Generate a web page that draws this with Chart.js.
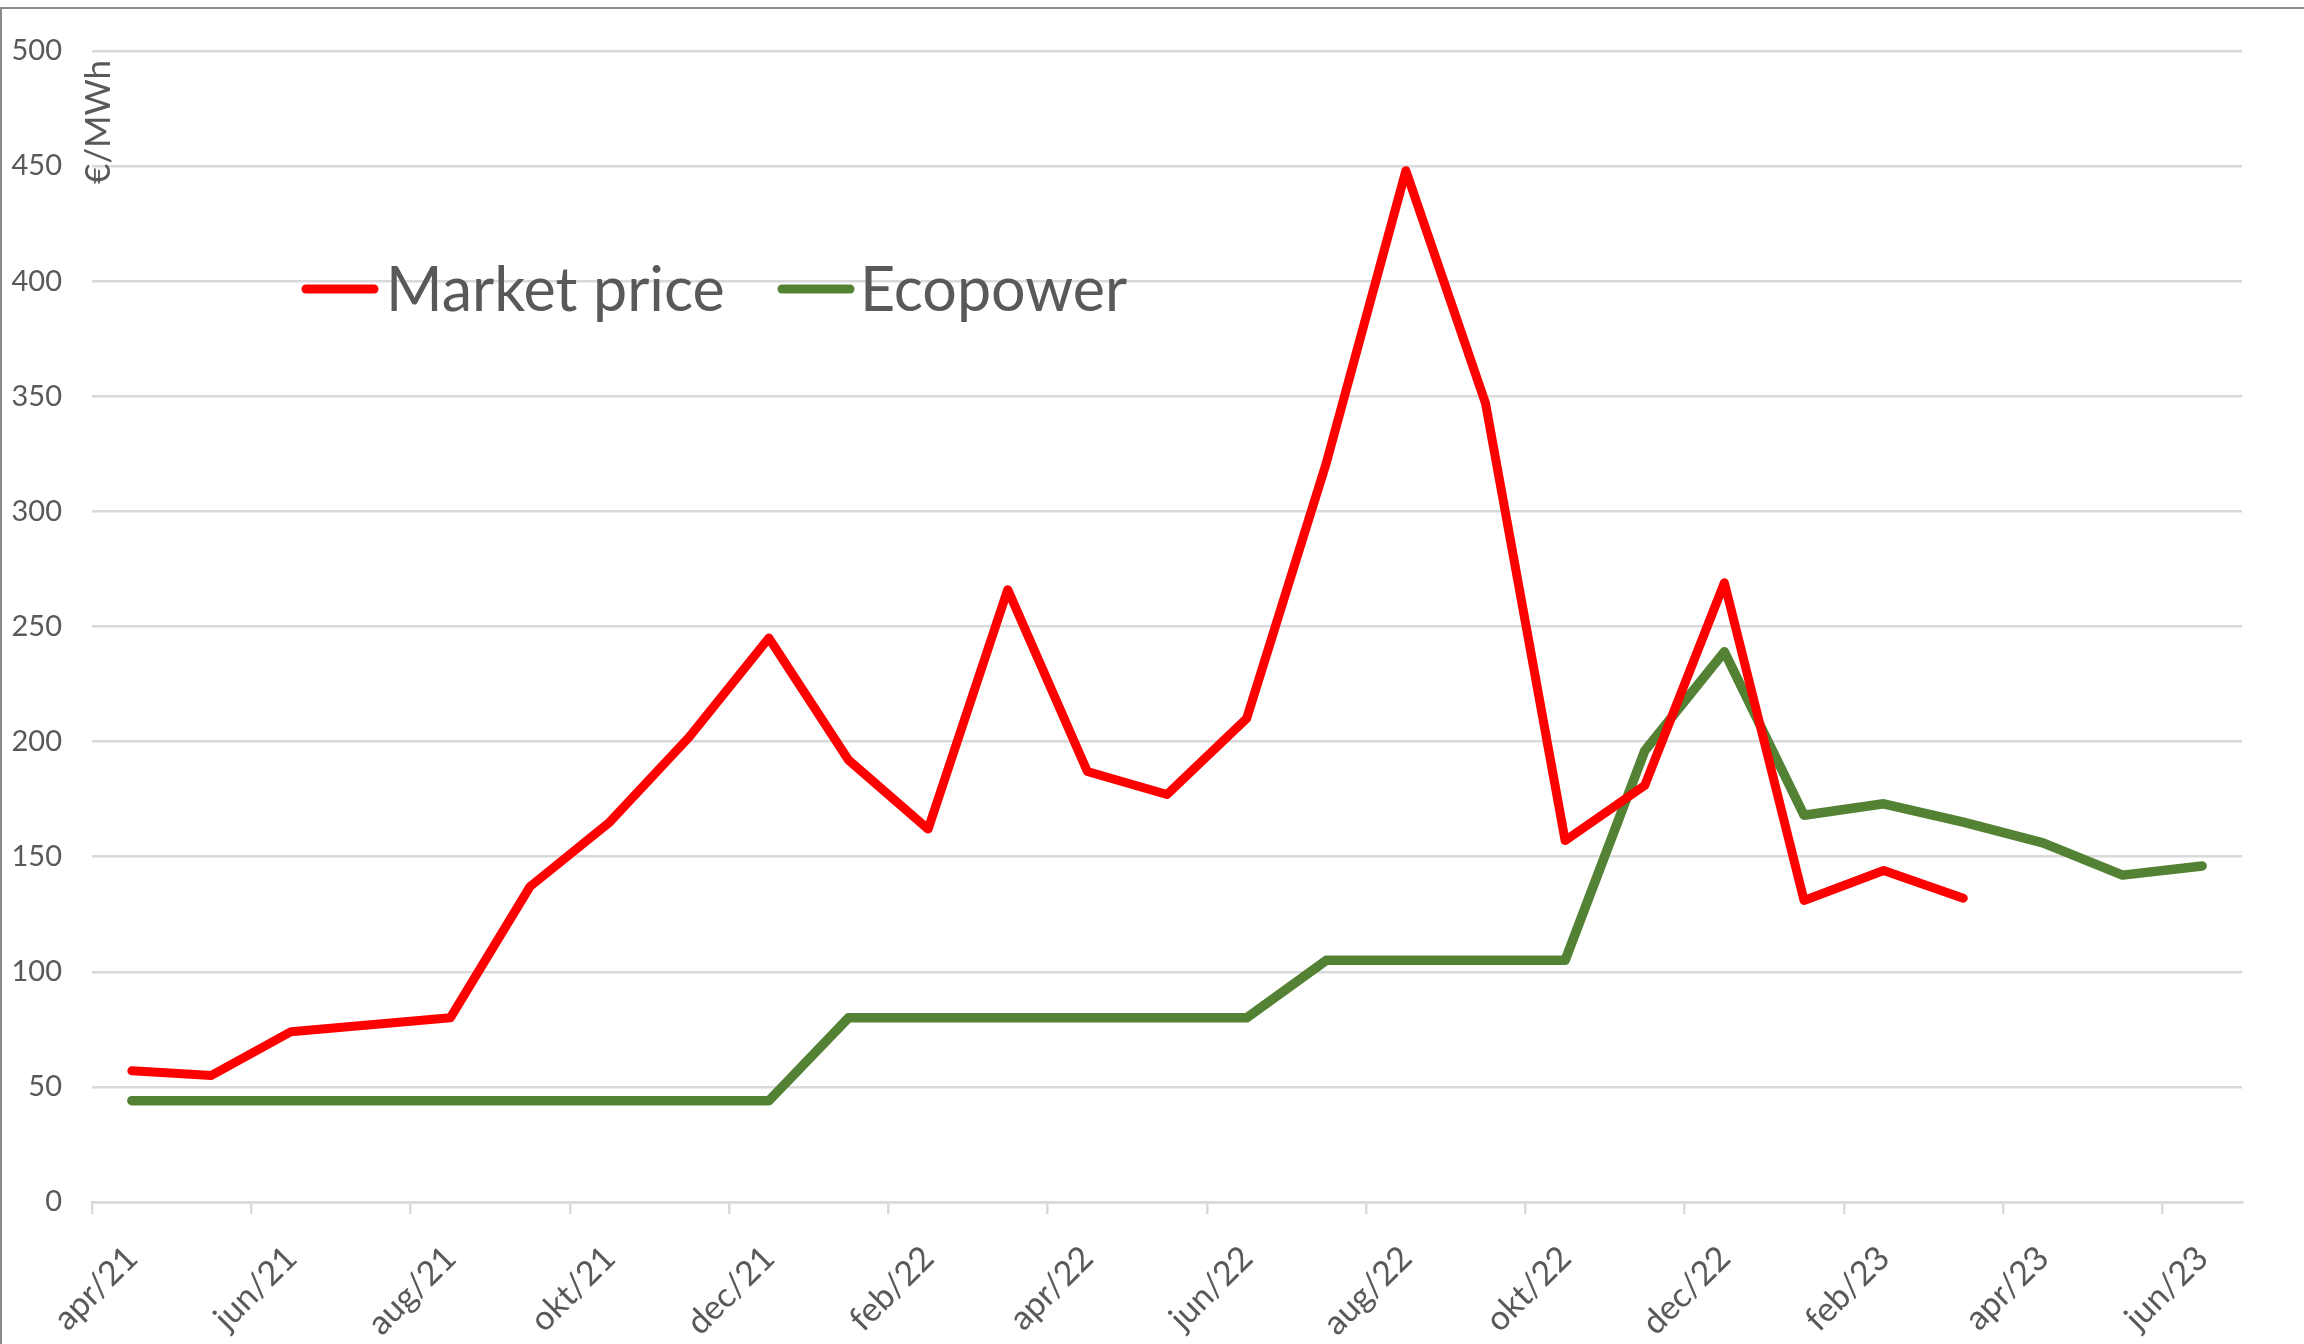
<!DOCTYPE html>
<html>
<head>
<meta charset="utf-8">
<title>Market price vs Ecopower</title>
<script src="https://cdn.jsdelivr.net/npm/chart.js@4.4.1/dist/chart.umd.min.js"></script>
<style>
    html, body { margin: 0; padding: 0; background: #ffffff; overflow: hidden; }
    #wrap { position: relative; width: 2304px; height: 1344px; }
    #frame {
        position: absolute; left: 0; top: 7px; width: 2400px; height: 2000px;
        border: 2px solid #8a8a8a; pointer-events: none; box-sizing: border-box;
    }
</style>
</head>
<body>
<div id="wrap">
    <canvas id="priceChart" width="2304" height="1344"></canvas>
    <div id="frame"></div>
</div>
<script>
const months = [
    'apr/21', 'maj/21', 'jun/21', 'jul/21', 'aug/21', 'sep/21', 'okt/21', 'nov/21', 'dec/21',
    'jan/22', 'feb/22', 'mar/22', 'apr/22', 'maj/22', 'jun/22', 'jul/22', 'aug/22', 'sep/22',
    'okt/22', 'nov/22', 'dec/22', 'jan/23', 'feb/23', 'mar/23', 'apr/23', 'maj/23', 'jun/23',
];
const tickLabels = [
    'apr/21', 'jun/21', 'aug/21', 'okt/21', 'dec/21', 'feb/22', 'apr/22',
    'jun/22', 'aug/22', 'okt/22', 'dec/22', 'feb/23', 'apr/23', 'jun/23',
];
const marketPrice = [
    57, 55, 74, 77, 80, 137, 165, 202, 245,
    192, 162, 266, 187, 177, 210, 321, 448, 347,
    157, 181, 269, 131, 144, 132,
];
const ecopower = [
    44, 44, 44, 44, 44, 44, 44, 44, 44,
    80, 80, 80, 80, 80, 80, 105, 105, 105,
    105, 196, 239, 168, 173, 165, 156, 142, 146,
];

const fontFamily = 'Lato, "Open Sans", sans-serif';
const textColor = '#595959';
const gridColor = '#d9d9d9';

// months sit in the middle of their slot, labels sit on the slot edges
const toPoints = (values) => values.map((v, i) => ({ x: i + 0.5, y: v }));

const insideLegend = {
    id: 'insideLegend',
    afterDraw(chart) {
        const { ctx } = chart;
        const items = [
            { x: 301, textX: 386 },
            { x: 777, textX: 860 },
        ];
        ctx.save();
        ctx.font = `61px ${fontFamily}`;
        ctx.textBaseline = 'middle';
        ctx.fillStyle = textColor;
        chart.data.datasets.forEach((ds, i) => {
            const it = items[i];
            ctx.strokeStyle = ds.borderColor;
            ctx.lineWidth = 9;
            ctx.lineCap = 'round';
            ctx.beginPath();
            ctx.moveTo(it.x + 5, 289);
            ctx.lineTo(it.x + 73, 289);
            ctx.stroke();
            ctx.fillText(ds.label, it.textX, 291);
        });

        // unit label tucked inside the plot, reading upward
        ctx.translate(99, 122);
        ctx.rotate(-Math.PI / 2);
        ctx.textAlign = 'center';
        ctx.font = `35px ${fontFamily}`;
        ctx.fillText('€/MWh', 0, 0);
        ctx.restore();
    },
};

new Chart(document.querySelector('#priceChart'), {
    type: 'line',
    data: {
        datasets: [{
            label: 'Market price',
            data: toPoints(marketPrice),
            borderColor: '#ff0000',
            borderWidth: 9,
            borderCapStyle: 'round',
            borderJoinStyle: 'round',
            pointRadius: 0,
            tension: 0,
        }, {
            label: 'Ecopower',
            data: toPoints(ecopower),
            borderColor: '#548235',
            borderWidth: 9.5,
            borderCapStyle: 'round',
            borderJoinStyle: 'round',
            pointRadius: 0,
            tension: 0,
        }],
    },
    options: {
        responsive: false,
        animation: false,
        layout: { padding: { top: 51, right: 62, left: 0, bottom: 0 } },
        plugins: {
            legend: { display: false },
            tooltip: { enabled: false },
        },
        scales: {
            x: {
                type: 'linear',
                min: 0,
                max: months.length,
                afterBuildTicks: (scale) => {
                    scale.ticks = tickLabels.map((_, i) => ({ value: i * 2 }));
                },
                afterFit: (scale) => {
                    scale.height = 142;
                    scale.paddingLeft = 0;
                    scale.paddingRight = 0;
                },
                ticks: {
                    autoSkip: false,
                    minRotation: 45,
                    maxRotation: 45,
                    labelOffset: 40,
                    padding: 24,
                    color: textColor,
                    font: { family: fontFamily, size: 34 },
                    callback: (value) => tickLabels[value / 2],
                },
                grid: {
                    drawOnChartArea: false,
                    color: gridColor,
                    lineWidth: 2.5,
                    tickLength: 12,
                },
                border: { color: gridColor, width: 2.5 },
            },
            y: {
                min: 0,
                max: 500,
                afterFit: (scale) => { scale.width = 92; },
                ticks: {
                    stepSize: 50,
                    padding: 30,
                    color: textColor,
                    font: { family: fontFamily, size: 29 },
                },
                grid: {
                    color: gridColor,
                    lineWidth: 2.5,
                    drawTicks: false,
                },
                border: { display: false },
            },
        },
    },
    plugins: [insideLegend],
});
</script>
</body>
</html>
